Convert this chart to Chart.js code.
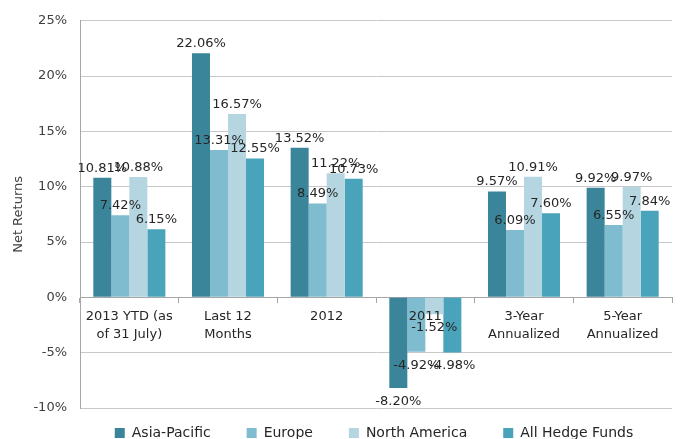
<!DOCTYPE html>
<html>
<head>
<meta charset="utf-8">
<script src="https://cdn.jsdelivr.net/npm/chart.js@4/dist/chart.umd.min.js"></script>
<style>
  html, body { margin: 0; padding: 0; background: #ffffff; }
  #wrap { width: 682px; height: 439px; position: relative; }
</style>
</head>
<body>
<div id="wrap"><canvas id="c" width="682" height="439"></canvas></div>
<script>
// ---- data ----
const categories = [["2013 YTD (as", "of 31 July)"], ["Last 12", "Months"], "2012", "2011", ["3-Year", "Annualized"], ["5-Year", "Annualized"]];
const seriesNames = ["Asia-Pacific", "Europe", "North America", "All Hedge Funds"];
const asiaPacific   = [10.81, 22.06, 13.52, -8.20, 9.57, 9.92];
const europe        = [7.42, 13.31, 8.49, -4.92, 6.09, 6.55];
const northAmerica  = [10.88, 16.57, 11.22, -1.52, 10.91, 9.97];
const allHedgeFunds = [6.15, 12.55, 10.73, -4.98, 7.60, 7.84];
const yTicks = [-10, -5, 0, 5, 10, 15, 20, 25];
const yTitle = "Net Returns";

const colors = ["#3a8599", "#7fbcd0", "#b5d6e0", "#49a3ba"];
const FONT = "'DejaVu Sans', sans-serif";

const dataLabels = {
  id: 'dataLabels',
  afterDatasetsDraw(chart) {
    const ctx = chart.ctx;
    ctx.save();
    ctx.font = "13px " + FONT;
    ctx.fillStyle = "#262626";
    ctx.textAlign = "center";
    chart.data.datasets.forEach((ds, i) => {
      const meta = chart.getDatasetMeta(i);
      meta.data.forEach((bar, j) => {
        const v = ds.data[j];
        const txt = v.toFixed(2) + "%";
        if (v >= 0) {
          ctx.textBaseline = "bottom";
          ctx.fillText(txt, bar.x, bar.y - 3);
        } else {
          ctx.textBaseline = "top";
          ctx.fillText(txt, bar.x, bar.y + 7);
        }
      });
    });
    ctx.restore();
  }
};

const legendShift = {
  id: 'legendShift',
  afterLayout(chart) {
    const lg = chart.legend;
    if (!lg) return;
    const pad = lg.options.labels.padding;
    const target = chart.chartArea.bottom + 18;
    lg.top = target - pad;
    lg.bottom = chart.height;
    const dx = (chart.chartArea.left + chart.chartArea.right) / 2 - chart.width / 2 + 3;
    lg.left += dx;
    lg.right += dx;
  }
};

new Chart(document.getElementById('c'), {
  type: 'bar',
  data: {
    labels: categories,
    datasets: [
      { label: seriesNames[0], data: asiaPacific, backgroundColor: colors[0] },
      { label: seriesNames[1], data: europe, backgroundColor: colors[1] },
      { label: seriesNames[2], data: northAmerica, backgroundColor: colors[2] },
      { label: seriesNames[3], data: allHedgeFunds, backgroundColor: colors[3] }
    ]
  },
  options: {
    responsive: false,
    animation: false,
    devicePixelRatio: 1,
    layout: { padding: { left: 0, right: 10, top: 20, bottom: 0 } },
    datasets: { bar: { barPercentage: 1.0, categoryPercentage: 0.73, borderWidth: 0 } },
    plugins: {
      legend: {
        position: 'bottom',
        fullSize: true,
        maxHeight: 31,
        labels: {
          boxWidth: 10, boxHeight: 10, padding: 36,
          color: "#262626",
          font: { family: FONT, size: 14 }
        }
      },
      tooltip: { enabled: false }
    },
    scales: {
      x: {
        position: { y: 0 },
        grid: { display: true, drawOnChartArea: false, offset: true, tickLength: 5, color: "#a6a6a6" },
        border: { display: true, color: "#a6a6a6", width: 1 },
        ticks: { z: 1, color: "#262626", font: { family: FONT, size: 13, lineHeight: 1.4 }, padding: 5, maxRotation: 0, autoSkip: false }
      },
      y: {
        min: -10, max: 25,
        afterBuildTicks(scale) { scale.ticks = yTicks.map(v => ({ value: v })); },
        afterFit(scale) { scale.width = 80; },
        grid: { color: "#c8c8c8", tickLength: 0, drawTicks: false },
        border: { display: true, color: "#a6a6a6" },
        ticks: {
          color: "#404040", font: { family: FONT, size: 13 }, padding: 13,
          callback: (v) => v + "%"
        },
        title: { display: true, text: yTitle, color: "#404040", font: { family: FONT, size: 13 }, padding: { top: 11, bottom: 0 } }
      }
    }
  },
  plugins: [dataLabels, legendShift]
});
</script>
</body>
</html>
